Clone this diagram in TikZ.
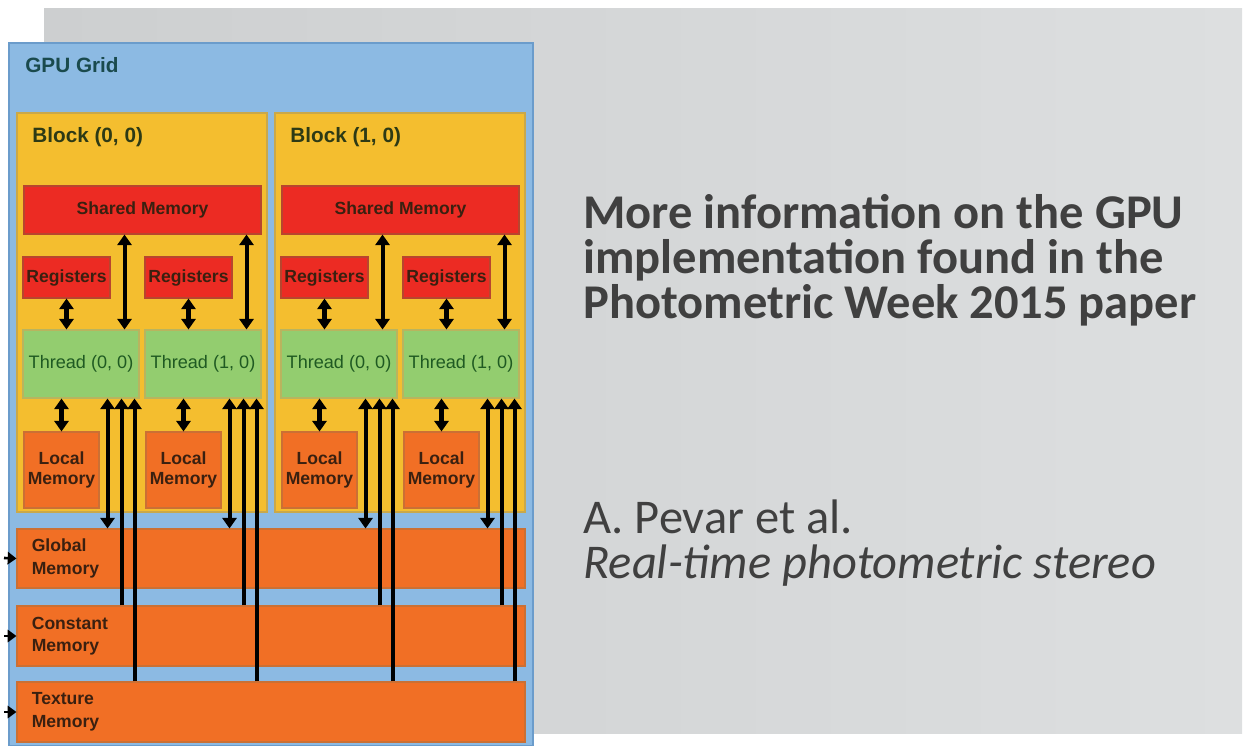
\documentclass[tikz,border=0pt]{standalone}
\usepackage{fontspec}
\setmainfont{Liberation Sans}
\newfontfamily\slidefont{Carlito}
\usetikzlibrary{positioning,calc,arrows.meta}

\definecolor{gridblue}{HTML}{8CBAE3}
\definecolor{gridline}{HTML}{6B9CCB}
\definecolor{blockyellow}{HTML}{F4BE2F}
\definecolor{blockline}{HTML}{C9A84A}
\definecolor{memred}{HTML}{EC2B23}
\definecolor{redline}{HTML}{B8452E}
\definecolor{threadgreen}{HTML}{93CD6F}
\definecolor{greenline}{HTML}{B9B45E}
\definecolor{memorange}{HTML}{F16F25}
\definecolor{orangeline}{HTML}{CB7034}
\definecolor{photoleft}{HTML}{CDCFD0}
\definecolor{photoright}{HTML}{DDDFE0}
\definecolor{slidetext}{HTML}{404040}
\definecolor{gputeal}{HTML}{1A4A4D}
\definecolor{blocktext}{HTML}{2D3A15}
\definecolor{threadtext}{HTML}{1F5A22}
\definecolor{memtext}{HTML}{3A2010}

\begin{document}
\begin{tikzpicture}[
  x=0.02cm, y=-0.02cm,
  pxbox/.style n args={4}{inner sep=0pt,
    minimum width={(#3-(#1))*0.02cm}, minimum height={(#4-(#2))*0.02cm},
    at={({(#1+#3)/2},{(#2+#4)/2})}},
  gridbox/.style={draw=gridline,fill=gridblue,line width=0.8pt},
  blockbox/.style={draw=blockline,fill=blockyellow,line width=0.6pt},
  redbox/.style={draw=redline,fill=memred,line width=0.6pt,text=memtext,font=\bfseries\fontsize{10}{11.5}\selectfont},
  threadbox/.style={draw=greenline,fill=threadgreen,line width=0.6pt,text=threadtext,font=\fontsize{10.3}{12}\selectfont},
  orangebox/.style={draw=orangeline,fill=memorange,line width=0.6pt,align=center,text=memtext,font=\bfseries\fontsize{10}{11.5}\selectfont},
  memlabel/.style={inner sep=0pt,align=left,text=memtext,font=\bfseries\fontsize{10}{12.8}\selectfont},
  title/.style={inner sep=0pt,anchor=base west,font=\bfseries\fontsize{11.8}{14}\selectfont},
  slidetxt/.style={inner sep=0pt,align=left,text=slidetext,anchor=base west},
  dbl/.style={line width=2.3pt,{Triangle[width=8pt,length=6pt]}-{Triangle[width=8pt,length=6pt]}},
  upar/.style={line width=2.3pt,-{Triangle[width=8pt,length=6pt]}},
  hostar/.style={line width=1.5pt,-{Triangle[width=7pt,length=5pt]}},
]
  \useasboundingbox (0,0) rectangle (1248,745);

  % photo behind the slide
  \shade[left color=photoleft,right color=photoright] (44,8) rectangle (1242,733);

  % GPU grid
  \node[gridbox,pxbox={9}{43}{533}{746}] (grid) {};
  \node[title,text=gputeal] (gridtitle) at (25,72) {GPU Grid};

  % global, constant and texture memory
  \node[orangebox,pxbox={17}{529}{525}{588}] (global) {};
  \node[orangebox,pxbox={17}{606}{525}{666}] (const) {};
  \node[orangebox,pxbox={17}{682}{525}{742}] (texture) {};
  \node[memlabel,right=0.3cm of global.west] (globallbl) {Global\\Memory};
  \node[memlabel,right=0.3cm of const.west] (constlbl) {Constant\\Memory};
  \node[memlabel,right=0.3cm of texture.west] (texturelbl) {Texture\\Memory};

  % host side
  \coordinate (hostg) at (4,558);
  \coordinate (hostc) at (4,636);
  \coordinate (hostt) at (4,712);
  \draw[hostar] (hostg) -- (global.west);
  \draw[hostar] (hostc) -- (const.west);
  \draw[hostar] (hostt) -- (texture.west);

  % blocks
  \foreach \b/\L in {0/17,1/275}{
    \node[blockbox,pxbox={\L}{113}{\L+250}{512}] (blk\b) {};
    \node[title,text=blocktext] (blktitle\b) at (\L+15,142) {Block (\b, 0)};
    \node[redbox,pxbox={\L+7}{186}{\L+244}{234}] (shm\b) {Shared Memory};
    \foreach \t/\R in {0/6,1/128}{
      \node[redbox,pxbox={\L+\R}{257}{\L+\R+87}{298}] (reg\b\t) {Registers};
      \node[threadbox,pxbox={\L+\R}{330}{\L+\R+116}{398}] (thr\b\t) {Thread (\t, 0)};
      \node[orangebox,pxbox={\L+\R+1}{432}{\L+\R+76}{508}] (loc\b\t) {Local\\Memory};

      % registers, local and shared memory
      \draw[dbl] (reg\b\t.south) -- (reg\b\t.south |- thr\b\t.north);
      \draw[dbl] (loc\b\t.north |- thr\b\t.south) -- (loc\b\t.north);
      \coordinate (sx\b\t) at ($(thr\b\t.north east)+(-15,0)$);
      \draw[dbl] (sx\b\t |- shm\b.south) -- (sx\b\t);

      % global, constant and texture memory
      \coordinate (gx\b\t) at ($(thr\b\t.south east)+(-32,0)$);
      \coordinate (cx\b\t) at ($(thr\b\t.south east)+(-18,0)$);
      \coordinate (tx\b\t) at ($(thr\b\t.south east)+(-5,0)$);
      \draw[dbl] (gx\b\t) -- (gx\b\t |- global.north);
      \draw[upar] (cx\b\t |- const.north) -- (cx\b\t);
      \draw[upar] (tx\b\t |- texture.north) -- (tx\b\t);
    }
  }

  % slide text (anchored at the baseline of the last line)
  \node[slidetxt,font=\slidefont\bfseries\fontsize{27.6}{25.5}\selectfont] (info) at (583,318)
    {More information on the GPU\\implementation found in the\\Photometric Week 2015 paper};
  \node[slidetxt,font=\slidefont\fontsize{27.6}{25.5}\selectfont] (ref) at (583,578)
    {A. Pevar et al.\\\itshape Real-time photometric stereo};
\end{tikzpicture}
\end{document}
